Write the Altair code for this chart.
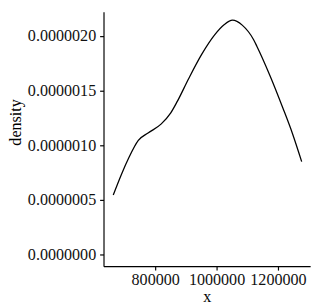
import altair as alt
import pandas as pd

x_vals = [663492, 692063, 713333, 745079, 776825, 819048, 850794, 872063,
          908889, 951429, 993651, 1025397, 1051746, 1083492, 1120635,
          1131111, 1173651, 1215873, 1247619, 1277143]
density = [5.45e-7, 7.47e-7, 8.81e-7, 1.045e-6, 1.113e-6, 1.194e-6, 1.297e-6,
           1.402e-6, 1.610e-6, 1.833e-6, 2.012e-6, 2.107e-6, 2.146e-6,
           2.101e-6, 1.967e-6, 1.908e-6, 1.640e-6, 1.342e-6, 1.104e-6, 8.51e-7]
x_ticks = [800000, 1000000, 1200000]
y_ticks = [0.0, 5e-7, 1e-6, 1.5e-6, 2e-6]

df = pd.DataFrame({"x": x_vals, "density": density})

FONT = "Liberation Serif"
common = dict(grid=False, tickSize=4, labelFontSize=16.5,
              titleFontSize=16.5, titleFontWeight="normal", labelFont=FONT,
              titleFont=FONT, domainColor="black", tickColor="black",
              labelColor="#111111", titleColor="black", domainWidth=1.2,
              tickWidth=1.2)

chart = alt.Chart(df).mark_line(color="black", strokeWidth=1.3, interpolate="monotone").encode(
    x=alt.X("x:Q", scale=alt.Scale(domain=[631746, 1304762], nice=False, zero=False),
            axis=alt.Axis(values=x_ticks, format="d", title="x", labelPadding=2,
                          titleY=36, titleBaseline="alphabetic", **common)),
    y=alt.Y("density:Q", scale=alt.Scale(domain=[-1.07e-7, 2.223e-6], nice=False, zero=False),
            axis=alt.Axis(values=y_ticks, format=".7f", title="density", labelPadding=4,
                          titleX=-90, titleY=113, titleAngle=-90,
                          titleAlign="center", titleBaseline="middle", **common)),
).properties(
    width=212, height=261,
    background="white",
    autosize=alt.AutoSizeParams(type="none"),
    padding={"left": 98, "top": 0, "right": 6, "bottom": 38},
).configure_view(stroke=None)

chart.save("out.html", embed_options={"renderer": "svg", "actions": False})
